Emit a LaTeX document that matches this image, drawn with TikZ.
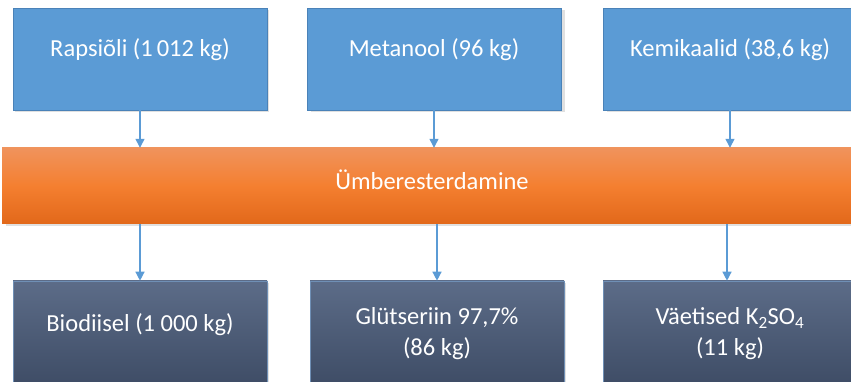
\documentclass[tikz,border=0pt]{standalone}
\usepackage{fontspec}
\setmainfont{Carlito}
\usetikzlibrary{arrows.meta}
\definecolor{topblue}{HTML}{5B9BD5}
\definecolor{topedge}{HTML}{4A82B8}
\definecolor{orTop}{HTML}{F0935C}
\definecolor{orMid}{HTML}{F47F30}
\definecolor{orBot}{HTML}{E2681A}
\definecolor{navyTop}{HTML}{5C6C88}
\definecolor{navyBot}{HTML}{3C4A63}
\definecolor{navyEdge}{HTML}{6F8FB5}
\begin{document}
\begin{tikzpicture}[x=1pt,y=1pt,
  inbox/.style={draw=topedge,line width=0.8pt,fill=topblue,minimum width=254pt,minimum height=102pt,inner sep=0pt},
  outbox/.style={draw=navyEdge,line width=0.6pt,top color=navyTop,bottom color=navyBot,minimum width=254pt,minimum height=112pt,inner sep=0pt},
  lbl/.style={text=white,font=\fontsize{24.5}{31}\selectfont,align=center,inner sep=0pt},
  shadowbox/.style={fill=black!12},
  flow/.style={draw=topblue,line width=1.3pt,-{Triangle[length=9pt,width=9pt]}}
]
\useasboundingbox (0,0) rectangle (851,382);
\clip (0,0) rectangle (851,382);
% shadows
\fill[shadowbox] (15,270) rectangle (269,372);
\fill[shadowbox] (311,270) rectangle (565,372);
\fill[shadowbox] (607,270) rectangle (861,372);
\fill[shadowbox] (6,156) rectangle (870,232);
\fill[shadowbox] (15,-20) rectangle (269,99);
\fill[shadowbox] (312,-20) rectangle (566,99);
\fill[shadowbox] (607,-20) rectangle (861,99);
% top boxes
\node[inbox] (a) at (140,323) {};
\node[inbox] (b) at (434,323) {};
\node[inbox] (c) at (730,323) {};
\node[lbl] (ta) at (140,332) {Rapsiõli (1\,012 kg)};
\node[lbl] (tb) at (434,332) {Metanool (96 kg)};
\node[lbl] (tc) at (730,332) {Kemikaalid (38,6 kg)};
% bar
\node[minimum width=860pt,minimum height=76pt,inner sep=0pt,top color=orTop,bottom color=orBot,middle color=orMid] (m) at (432,196) {};
\node[lbl] (tm) at (432,202) {Ümberesterdamine};
% bottom boxes
\node[outbox] (d) at (140,45) {};
\node[outbox] (e) at (437,45) {};
\node[outbox] (f) at (730,45) {};
\node[lbl] (td) at (140,57) {Biodiisel (1 000 kg)};
\node[lbl] (te) at (437,48) {Glütseriin 97,7\%\\(86 kg)};
\node[lbl] (tf) at (730,48) {Väetised K\textsubscript{2}SO\textsubscript{4}\\(11 kg)};
% connectors
\draw[flow] (a.south) -- (a.south |- m.north);
\draw[flow] (b.south) -- (b.south |- m.north);
\draw[flow] (c.south) -- (c.south |- m.north);
\draw[flow] (d.north |- m.south) -- (d.north);
\draw[flow] (e.north |- m.south) -- (e.north);
\draw[flow] ([xshift=-3pt]f.north |- m.south) -- ([xshift=-3pt]f.north);
\end{tikzpicture}
\end{document}
